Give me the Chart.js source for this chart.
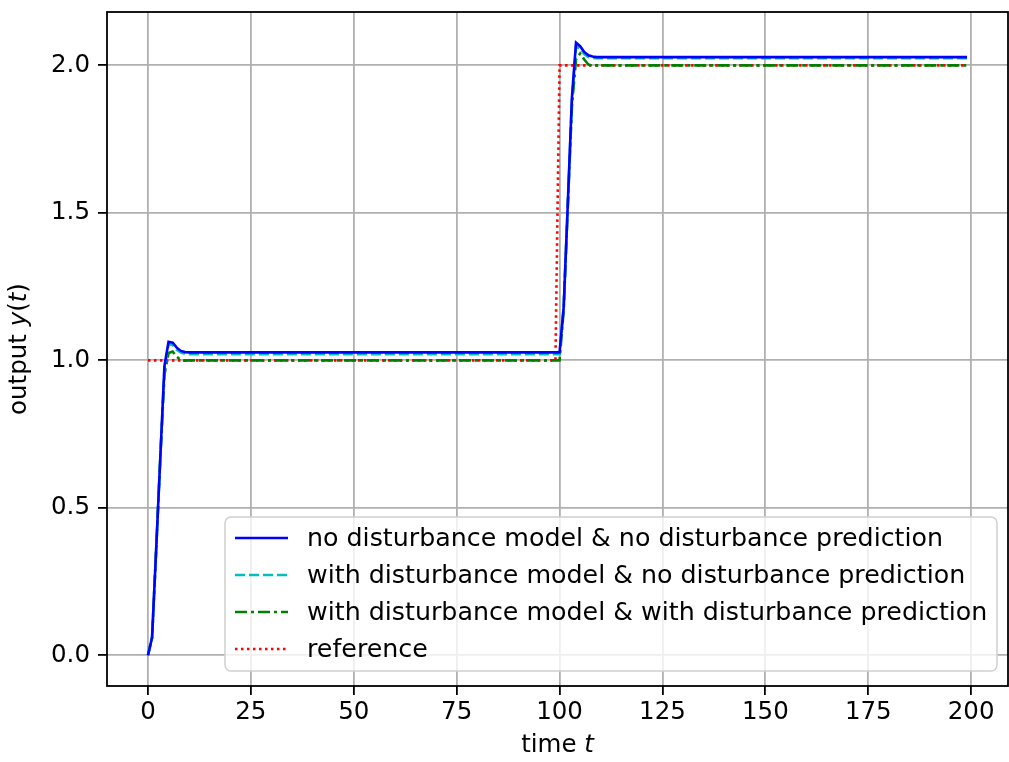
<!DOCTYPE html>
<html>
<head>
<meta charset="utf-8">
<script src="https://cdn.jsdelivr.net/npm/chart.js@4/dist/chart.umd.min.js"></script>
<style>
  body { margin: 0; background: #fff; }
  canvas { display: block; }
</style>
</head>
<body>
<canvas id="myChart" width="1009" height="762"></canvas>
<script>
// sample times that carry the transients, flat stretches in between
const tOut = [0, 1, 2, 3, 4, 5, 6, 7, 8, 9, 10, 100, 101, 102, 103, 104, 105, 106, 107, 108, 109, 199];
const yNoModel = [0, 0.06, 0.36, 0.67, 0.98, 1.063, 1.06, 1.043, 1.032, 1.028, 1.027,
  1.027, 1.18, 1.53, 1.89, 2.077, 2.065, 2.045, 2.034, 2.03, 2.028, 2.028];
const yModelNoPred = [0, 0.06, 0.36, 0.67, 0.97, 1.055, 1.052, 1.036, 1.026, 1.022, 1.021,
  1.021, 1.18, 1.53, 1.88, 2.063, 2.058, 2.038, 2.028, 2.025, 2.024, 2.024];
const yModelPred = [0, 0.06, 0.36, 0.67, 0.95, 1.025, 1.03, 1.012, 1.001, 0.999, 1.0,
  1.0, 1.17, 1.52, 1.86, 2.02, 2.04, 2.02, 2.003, 1.998, 2.0, 2.0];
const tRef = [0, 99, 100, 199];
const yRef = [1, 1, 2, 2];

const xTicks = [0, 25, 50, 75, 100, 125, 150, 175, 200];
const yTicks = [0, 0.5, 1.0, 1.5, 2.0];
const labels = [
  "no disturbance model & no disturbance prediction",
  "with disturbance model & no disturbance prediction",
  "with disturbance model & with disturbance prediction",
  "reference"
];

const FONT = "'DejaVu Sans', sans-serif";
const FS = 24.5;
const LEG_FS = 25.3;
Chart.defaults.font.family = FONT;
Chart.defaults.font.size = FS;
Chart.defaults.color = "#000";

function pts(ts, ys) {
  return ts.map((t, i) => ({ x: t, y: ys[i] }));
}

function drawParts(ctx, parts, x, y) {
  let total = 0;
  parts.forEach((p) => {
    ctx.font = p[1] + " " + FS + "px " + FONT;
    total += ctx.measureText(p[0]).width;
  });
  let cx = x - total / 2;
  parts.forEach((p) => {
    ctx.font = p[1] + " " + FS + "px " + FONT;
    ctx.fillText(p[0], cx, y);
    cx += ctx.measureText(p[0]).width;
  });
}

const extras = {
  id: "extras",
  afterDraw(chart) {
    const ctx = chart.ctx;
    const a = chart.chartArea;
    ctx.save();
    // frame
    ctx.strokeStyle = "#000";
    ctx.lineWidth = 1.8;
    ctx.strokeRect(a.left, a.top, a.right - a.left, a.bottom - a.top);

    // axis titles
    ctx.fillStyle = "#000";
    ctx.textBaseline = "middle";
    ctx.textAlign = "left";
    drawParts(ctx, [["time ", "normal"], ["t", "italic"]], (a.left + a.right) / 2, 746);
    ctx.save();
    ctx.translate(20, (a.top + a.bottom) / 2);
    ctx.rotate(-Math.PI / 2);
    drawParts(ctx, [["output ", "normal"], ["y", "italic"], ["(", "normal"], ["t", "italic"], [")", "normal"]], 0, 0);
    ctx.restore();

    // legend
    const bx = 225, by = 517, bw = 772, bh = 154, r = 6;
    ctx.beginPath();
    ctx.moveTo(bx + r, by);
    ctx.arcTo(bx + bw, by, bx + bw, by + bh, r);
    ctx.arcTo(bx + bw, by + bh, bx, by + bh, r);
    ctx.arcTo(bx, by + bh, bx, by, r);
    ctx.arcTo(bx, by, bx + bw, by, r);
    ctx.closePath();
    ctx.fillStyle = "rgba(255,255,255,0.8)";
    ctx.fill();
    ctx.strokeStyle = "#d0d0d0";
    ctx.lineWidth = 1.5;
    ctx.stroke();

    chart.data.datasets.forEach((ds, i) => {
      const yy = 538 + i * 37;
      ctx.beginPath();
      ctx.setLineDash(ds.borderDash || []);
      ctx.strokeStyle = ds.borderColor;
      ctx.lineWidth = ds.borderWidth;
      ctx.moveTo(235, yy);
      ctx.lineTo(288, yy);
      ctx.stroke();
      ctx.setLineDash([]);
      ctx.fillStyle = "#000";
      ctx.font = LEG_FS + "px " + FONT;
      ctx.textAlign = "left";
      ctx.fillText(ds.label, 307, yy + 1);
    });
    ctx.restore();
  }
};

const gridOpts = {
  color: "#b0b0b0",
  lineWidth: 1.8,
  drawTicks: true,
  tickLength: 9,
  tickColor: "#000",
  tickWidth: 1.8
};

new Chart(document.getElementById("myChart"), {
  type: "line",
  data: {
    datasets: [
      { label: labels[0], data: pts(tOut, yNoModel), borderColor: "#0000ff", borderWidth: 2.6 },
      { label: labels[1], data: pts(tOut, yModelNoPred), borderColor: "#00bfbf", borderWidth: 2.6, borderDash: [10, 4] },
      { label: labels[2], data: pts(tOut, yModelPred), borderColor: "#008000", borderWidth: 2.6, borderDash: [12, 4, 3, 4] },
      { label: labels[3], data: pts(tRef, yRef), borderColor: "#ff0000", borderWidth: 2.6, borderDash: [2.5, 3.5] }
    ]
  },
  options: {
    responsive: false,
    animation: false,
    layout: { padding: { top: 12, right: 1, left: 0, bottom: 0 } },
    elements: { point: { radius: 0 }, line: { tension: 0, fill: false } },
    plugins: { legend: { display: false }, tooltip: { enabled: false } },
    scales: {
      x: {
        type: "linear",
        min: -9.95,
        max: 208.95,
        grid: gridOpts,
        border: { display: false },
        ticks: { padding: 3, maxRotation: 0, callback: (v) => String(v) },
        afterBuildTicks: (s) => { s.ticks = xTicks.map((v) => ({ value: v })); },
        afterFit: (s) => { s.height = 76; s.paddingLeft = 0; s.paddingRight = 0; }
      },
      y: {
        type: "linear",
        min: -0.104,
        max: 2.181,
        grid: gridOpts,
        border: { display: false },
        ticks: { padding: 8, callback: (v) => Number(v).toFixed(1) },
        afterBuildTicks: (s) => { s.ticks = yTicks.map((v) => ({ value: v })); },
        afterFit: (s) => { s.width = 107; s.paddingTop = 0; s.paddingBottom = 0; }
      }
    }
  },
  plugins: [extras]
});
</script>
</body>
</html>
